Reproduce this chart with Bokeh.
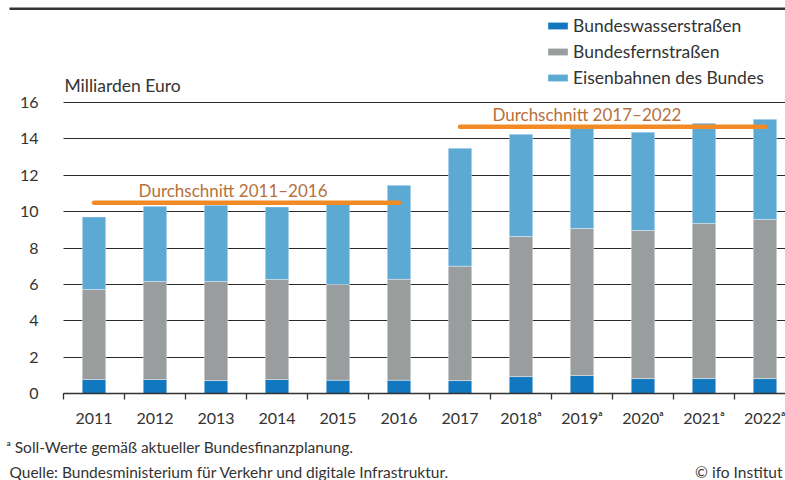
from bokeh.plotting import figure
from bokeh.models import (Range1d, FixedTicker, Legend, LegendItem, Label,
                          ColumnDataSource)
from bokeh.embed import file_html
from bokeh.resources import INLINE

# ---------------- data ----------------
years = ["2011", "2012", "2013", "2014", "2015", "2016",
         "2017", "2018", "2019", "2020", "2021", "2022"]
year_labels = ["2011", "2012", "2013", "2014", "2015", "2016",
               "2017", "2018ᵃ", "2019ᵃ", "2020ᵃ", "2021ᵃ", "2022ᵃ"]
wasserstrassen = [0.77, 0.77, 0.71, 0.77, 0.73, 0.73, 0.71, 0.93, 0.99, 0.82, 0.82, 0.82]
fernstrassen = [4.95, 5.39, 5.45, 5.50, 5.26, 5.55, 6.29, 7.70, 8.08, 8.14, 8.53, 8.75]
eisenbahnen = [3.99, 4.14, 4.19, 3.99, 4.43, 5.17, 6.49, 5.63, 5.55, 5.41, 5.51, 5.51]
series_names = ["Bundeswasserstraßen", "Bundesfernstraßen", "Eisenbahnen des Bundes"]
series_colors = ["#1177BF", "#9A9D9E", "#5CA9D4"]

avg_start = ["2011", "2017"]
avg_end = ["2016", "2022"]
avg_value = [10.49, 14.66]
avg_labels = ["Durchschnitt 2011–2016", "Durchschnitt 2017–2022"]
avg_label_x = [2.78, 8.58]

y_ticks = [0, 2, 4, 6, 8, 10, 12, 14, 16]

FONT = "Lato"
TXT = "#333333"

# ---------------- geometry (pixels) ----------------
W, H = 785, 480
px_per_cat = 61.0
px_per_unit = 18.1875
x0_px, y0_px = 63, 393          # pixel position of data origin (from top-left)
xmin = -x0_px / px_per_cat
xmax = (W - x0_px) / px_per_cat
ymin = -(H - y0_px) / px_per_unit
ymax = y0_px / px_per_unit

p = figure(width=W, height=H, output_backend="svg", toolbar_location=None,
           x_range=Range1d(xmin, xmax), y_range=Range1d(ymin, ymax),
           min_border_left=0, min_border_right=0,
           min_border_top=0, min_border_bottom=0)
p.outline_line_color = None
p.background_fill_color = "white"
p.border_fill_color = "white"

xpos = [i + 0.5 for i in range(len(years))]
src = ColumnDataSource(dict(x=xpos, w=wasserstrassen, f=fernstrassen, e=eisenbahnen))

# grid
p.xgrid.visible = False
grid_ok = False
try:
    p.ygrid.cross_bounds = (0, xmax)
    grid_ok = True
except Exception:
    grid_ok = False
if grid_ok:
    p.ygrid.ticker = FixedTicker(ticks=y_ticks)
    p.ygrid.grid_line_color = "#2a2a2a"
    p.ygrid.grid_line_width = 1.1
else:
    p.ygrid.visible = False
    p.segment(x0=[0] * len(y_ticks), x1=[xmax] * len(y_ticks), y0=y_ticks, y1=y_ticks,
              line_color="#2a2a2a", line_width=1.1)

renderers = p.vbar_stack(["w", "f", "e"], x="x", width=0.385, source=src,
                         fill_color=series_colors, line_color="white",
                         line_alpha=0.45, line_width=0.8)

# average lines
for s, e, v, lab, lx in zip(avg_start, avg_end, avg_value, avg_labels, avg_label_x):
    xa = years.index(s) + 0.5
    xb = years.index(e) + 0.5
    p.segment(x0=[xa], y0=[v], x1=[xb], y1=[v], line_color="#F28A25",
              line_width=4.5, line_cap="round")
    p.add_layout(Label(x=lx, y=v + 12.5 / px_per_unit, text=lab, text_align="center",
                       text_baseline="alphabetic", text_font=FONT,
                       text_font_size="17px", text_color="#B8703A"))

# axes pinned at the data origin
yax = p.yaxis[0]
yax.fixed_location = 0
yax.ticker = FixedTicker(ticks=y_ticks)
yax.axis_line_color = None
yax.major_tick_line_color = None
yax.minor_tick_line_color = None
yax.major_label_standoff = 19
yax.major_label_text_font = FONT
yax.major_label_text_font_size = "16px"
yax.major_label_text_color = TXT

xax = p.xaxis[0]
xax.fixed_location = 0
xax.bounds = (0, xmax)
xax.ticker = FixedTicker(ticks=xpos, minor_ticks=list(range(len(years))))
xax.major_label_overrides = {x: lab for x, lab in zip(xpos, year_labels)}
xax.major_tick_line_color = None
xax.major_tick_out = 0
xax.major_tick_in = 0
xax.minor_tick_out = 6
xax.minor_tick_in = 0
xax.minor_tick_line_color = TXT
xax.minor_tick_line_width = 1.3
xax.axis_line_color = TXT
xax.axis_line_width = 1.5
xax.major_label_standoff = 8
xax.major_label_text_font = FONT
xax.major_label_text_font_size = "16px"
xax.major_label_text_color = TXT

# legend (location = bottom-left of legend, pixels from canvas bottom-left)
legend = Legend(items=[LegendItem(label=n, renderers=[r]) for n, r in zip(series_names, renderers)],
                location=(545, H - 87.5), orientation="vertical",
                glyph_width=25, glyph_height=9, label_height=20, spacing=5,
                label_standoff=3, padding=0, margin=0,
                border_line_color=None, background_fill_alpha=0,
                label_text_font=FONT, label_text_font_size="17.5px",
                label_text_color=TXT)
p.add_layout(legend)

# texts (screen units: pixels from canvas bottom-left)
p.add_layout(Label(x=64, y=H - 85, x_units="screen", y_units="screen",
                   text="Milliarden Euro", text_font=FONT, text_font_size="17.5px",
                   text_color=TXT, text_baseline="alphabetic"))
p.add_layout(Label(x=6, y=H - 446, x_units="screen", y_units="screen",
                   text="ᵃ Soll-Werte gemäß aktueller Bundesfinanzplanung.",
                   text_font=FONT, text_font_size="15.5px", text_color=TXT,
                   text_baseline="alphabetic"))
p.add_layout(Label(x=9, y=H - 471.5, x_units="screen", y_units="screen",
                   text="Quelle:  Bundesministerium für Verkehr und digitale Infrastruktur.",
                   text_font=FONT, text_font_size="15.5px", text_color=TXT,
                   text_baseline="alphabetic"))
p.add_layout(Label(x=W - 3, y=H - 471.5, x_units="screen", y_units="screen",
                   text="© ifo Institut", text_font=FONT, text_font_size="15.5px",
                   text_color=TXT, text_baseline="alphabetic", text_align="right"))

# top rule
rule_y = (y0_px - 8.3) / px_per_unit
p.segment(x0=[(9 - x0_px) / px_per_cat], x1=[xmax], y0=[rule_y], y1=[rule_y],
          line_color="#333333", line_width=2.4)

open("out.html", "w").write(file_html(p, INLINE))
